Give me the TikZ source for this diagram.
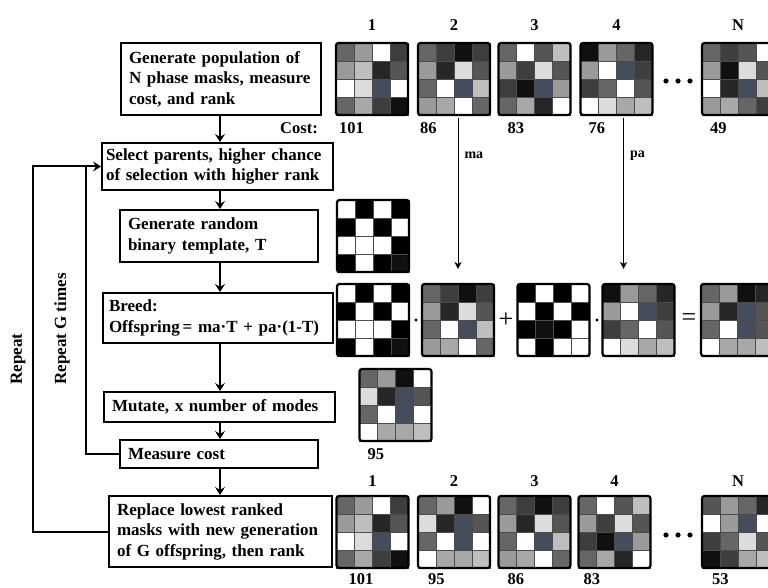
\documentclass[tikz,border=0pt]{standalone}
\usepackage{fontspec}
\setmainfont{Liberation Serif}
\usetikzlibrary{arrows.meta,positioning}

\definecolor{mA}{HTML}{FFFFFF}
\definecolor{mB}{HTML}{DCDCDC}
\definecolor{mC}{HTML}{BEBEBE}
\definecolor{mD}{HTML}{A8A8A8}
\definecolor{mE}{HTML}{9A9A9A}
\definecolor{mF}{HTML}{666666}
\definecolor{mG}{HTML}{555555}
\definecolor{mH}{HTML}{3E3E3E}
\definecolor{mK}{HTML}{262626}
\definecolor{mM}{HTML}{101010}
\definecolor{mS}{HTML}{454C5C}
\definecolor{mZ}{HTML}{000000}

% one 4x4 phase mask: name, centre, 16 cell colours row by row
\newcommand{\maskgrid}[3]{%
  \node[maskbox] (#1) at (#2) {};
  \foreach \mc [count=\k from 0] in {#3} {%
    \pgfmathtruncatemacro{\mcol}{mod(\k,4)}%
    \pgfmathtruncatemacro{\mrow}{div(\k,4)}%
    \filldraw[fill=m\mc, draw=black!70, line width=0.8pt]
      ([xshift=\mcol*18pt, yshift=-\mrow*18pt]#1.north west) rectangle ++(18,18);
  }
  \draw[line width=2.2pt, rounded corners=2.5pt] (#1.north west) rectangle (#1.south east);
}

\begin{document}
\begin{tikzpicture}[x=1pt,y=-1pt]
\tikzstyle{stepbox}=[rectangle, draw=black, line width=2pt, inner xsep=8pt, inner ysep=0pt, align=left, font=\fontsize{17}{20.5}\selectfont\bfseries]
\tikzstyle{maskbox}=[rectangle, minimum size=72pt, inner sep=0pt, outer sep=0pt]
\tikzstyle{lbl}=[inner sep=0pt, font=\fontsize{16.5}{19}\selectfont\bfseries]
\tikzstyle{tag}=[inner sep=0pt, font=\fontsize{14}{16}\selectfont\bfseries]
\tikzstyle{flow}=[-{Stealth[length=8pt,width=10pt,inset=3pt]}, line width=2pt]
\tikzstyle{pick}=[-{Stealth[length=7pt,width=7pt,inset=2pt]}, line width=1pt]
\tikzstyle{loopline}=[line width=2pt]
  \fill[white] (0,0) rectangle (768,588);
  \useasboundingbox (0,0) rectangle (768,588);

  % flow chart
  \node[stepbox, text width=184pt, minimum height=72pt] (gen) at (221,79) {Generate population of\\N phase masks, measure\\cost, and rank};
  \node[stepbox, inner xsep=4pt, text width=223pt, minimum height=47pt] (sel) at (217.5,166.5) {Select parents, higher chance\\of selection with higher rank};
  \node[stepbox, text width=182pt, minimum height=52pt] (tmpl) at (219,236) {Generate random\\binary template, T};
  \node[stepbox, inner xsep=6pt, text width=218pt, minimum height=50pt] (breed) at (218,318) {Breed:\\Offspring\,= ma·T + pa·(1-T)};
  \node[stepbox, text width=215pt, minimum height=30pt] (mutate) at (219.5,407) {Mutate, x number of modes};
  \node[stepbox, text width=182pt, minimum height=28pt] (measure) at (219,454) {Measure cost};
  \node[stepbox, text width=207pt, minimum height=71pt] (replace) at (220.5,531.5) {Replace lowest ranked\\masks with new generation\\of G offspring, then rank};

  \coordinate (spine) at (220,0);
  \draw[flow] (gen.south -| spine) -- (sel.north -| spine);
  \draw[flow] (sel.south -| spine) -- (tmpl.north -| spine);
  \draw[flow] (tmpl.south -| spine) -- (breed.north -| spine);
  \draw[flow] (breed.south -| spine) -- (mutate.north -| spine);
  \draw[flow] (mutate.south -| spine) -- (measure.north -| spine);
  \draw[flow] (measure.south -| spine) -- (replace.north -| spine);

  % repeat loops
  \coordinate (outer) at (33,166.5);
  \coordinate (inner) at (86,166.5);
  \draw[loopline, flow] (replace.west) -| (outer) -- (sel.west);
  \draw[loopline] (measure.west) -| (inner);
  \node[lbl, font=\fontsize{17}{19}\selectfont\bfseries, rotate=90, anchor=west] (rep) at (18,385) {Repeat};
  \node[lbl, font=\fontsize{17}{19}\selectfont\bfseries, rotate=90, anchor=west] (repg) at (62,385) {Repeat G times};

  % first population
  \maskgrid{top1}{372,79}{F,E,A,H,E,C,K,G,A,B,S,A,F,D,H,M}
  \maskgrid{top2}{454,79}{F,H,M,H,E,K,B,G,F,A,S,C,E,D,A,F}
  \maskgrid{top3}{534.5,79}{F,A,G,C,E,H,B,G,H,M,S,E,F,D,K,A}
  \maskgrid{top4}{616.5,79}{M,E,F,K,E,A,S,H,H,F,A,G,A,B,D,C}
  \maskgrid{topN}{738,79}{F,H,G,A,E,M,B,G,A,K,S,C,E,D,F,H}
  \foreach \d in {666,678,690} \fill (\d,81) circle (2.6);
  \node[lbl, above=12pt of top1] (n1) {1};
  \node[lbl, above=12pt of top2] (n2) {2};
  \node[lbl, above=12pt of top3] (n3) {3};
  \node[lbl, above=12pt of top4] (n4) {4};
  \node[lbl, above=12pt of topN] (nN) {N};
  \node[lbl, anchor=east] (cost) at (318,128) {Cost:};
  \node[lbl, below right=7pt and 3pt of top1.south west] (c1) {101};
  \node[lbl, below right=7pt and 2pt of top2.south west] (c2) {86};
  \node[lbl, below right=7pt and 9pt of top3.south west] (c3) {83};
  \node[lbl, below right=7pt and 8pt of top4.south west] (c4) {76};
  \node[lbl, below right=7pt and 8pt of topN.south west] (cN) {49};

  % template and breeding
  \maskgrid{tmpl1}{373,236}{A,Z,A,Z,Z,A,Z,A,A,A,A,Z,Z,A,Z,M}
  \maskgrid{brT}{373,320}{A,Z,A,Z,Z,A,Z,A,A,A,A,Z,Z,A,Z,M}
  \maskgrid{ma}{458,320}{F,H,M,H,E,K,B,G,F,A,S,C,E,D,A,F}
  \maskgrid{brInv}{553.5,320}{Z,A,Z,A,A,Z,A,Z,Z,M,Z,A,A,Z,A,A}
  \maskgrid{pa}{638.5,320}{M,E,F,K,E,A,S,H,H,F,A,G,A,B,D,C}
  \maskgrid{brOff}{737,320}{F,E,M,K,E,K,S,G,F,A,S,G,A,D,D,C}
  \fill (416,320) circle (1.6);
  \fill (597,320) circle (1.6);
  \node[lbl, font=\fontsize{26}{26}\selectfont] (plus) at (506,320) {+};
  \node[lbl, font=\fontsize{26}{26}\selectfont] (eq) at (689,320) {=};
  \path (ma.north |- top2.south) ++(0,3) coordinate (mastart);
  \path (ma.north) ++(0,-15) coordinate (maend);
  \draw[pick] (mastart) -- node[tag, pos=0.25, right=6pt] {ma} (maend);
  \path (top4.south) ++(7,3) coordinate (pastart);
  \path (pastart |- pa.north) ++(0,-15) coordinate (paend);
  \draw[pick] (pastart) -- node[tag, pos=0.25, right=6pt] {pa} (paend);

  % mutated offspring
  \maskgrid{mut}{395.5,405}{F,E,M,A,B,K,S,G,F,A,S,A,A,D,D,C}
  \node[lbl, below right=7pt and 8pt of mut.south west] (cm) {95};

  % next generation
  \maskgrid{bot1}{372.5,532}{F,E,A,H,E,C,K,G,A,B,S,A,F,D,H,M}
  \maskgrid{bot2}{454,532}{F,E,M,A,B,K,S,G,F,A,S,A,A,D,D,C}
  \maskgrid{bot3}{534.5,532}{F,H,M,H,E,K,B,G,F,A,S,C,E,D,A,F}
  \maskgrid{bot4}{614.5,532}{F,A,G,C,E,H,B,G,H,M,S,E,F,D,K,A}
  \maskgrid{botN}{738,532}{G,E,F,K,A,E,S,A,H,F,B,G,M,H,D,C}
  \foreach \d in {666,678,690} \fill (\d,535) circle (2.6);
  \node[lbl, above=9pt of bot1] (m1) {1};
  \node[lbl, above=9pt of bot2] (m2) {2};
  \node[lbl, above=9pt of bot3] (m3) {3};
  \node[lbl, above=9pt of bot4] (m4) {4};
  \node[lbl, above=9pt of botN] (mN) {N};
  \node[lbl, below right=5pt and 12pt of bot1.south west] (d1) {101};
  \node[lbl, below right=5pt and 10pt of bot2.south west] (d2) {95};
  \node[lbl, below right=5pt and 9pt of bot3.south west] (d3) {86};
  \node[lbl, below right=5pt and 5pt of bot4.south west] (d4) {83};
  \node[lbl, below right=5pt and 10pt of botN.south west] (dN) {53};
\end{tikzpicture}
\end{document}
